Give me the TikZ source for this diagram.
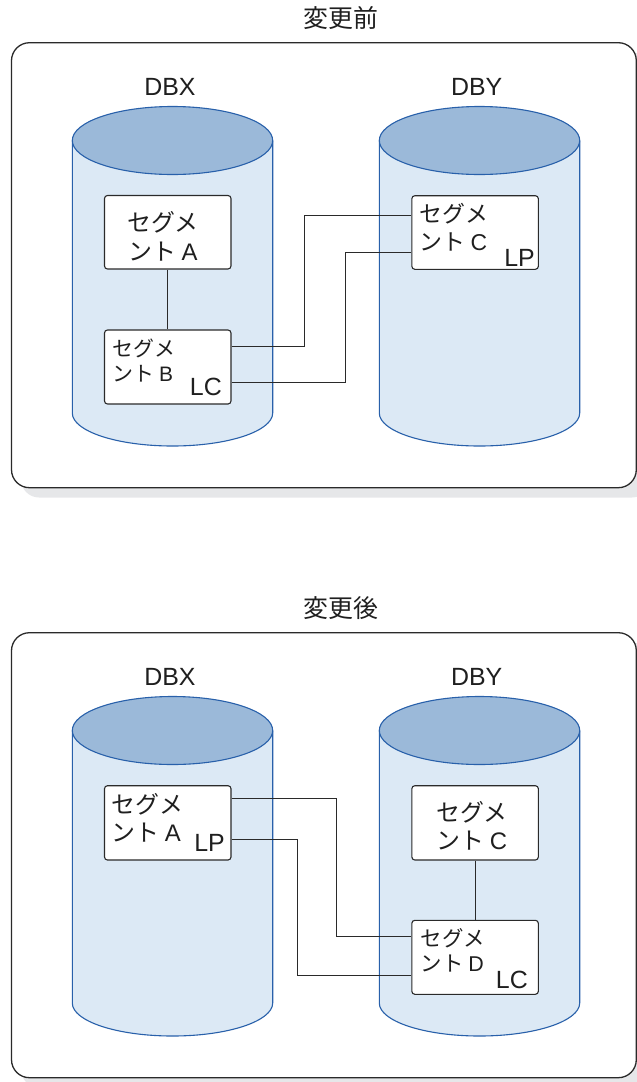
\documentclass[tikz,border=0pt]{standalone}
\usepackage{fontspec}
\setmainfont{Liberation Sans}
\newfontfamily\jp{Noto Sans CJK JP}
\newfontfamily\lat{Liberation Sans}
\definecolor{cylbody}{HTML}{DCE9F5}
\definecolor{cyltop}{HTML}{9BB9D9}
\definecolor{cylline}{HTML}{2860AA}
\definecolor{boxline}{HTML}{2A2A2A}
\definecolor{shadowc}{HTML}{E6E7E9}
\tikzset{
  panel/.style={draw=boxline, line width=1.3bp, fill=white, rounded corners=18bp},
  panelshadow/.style={fill=shadowc, rounded corners=18bp},
  segbox/.style={draw=boxline, line width=1.1bp, fill=white, rounded corners=3bp,
    inner sep=0pt, minimum width=126.5bp},
  conn/.style={draw=boxline, line width=1.1bp},
  jtext/.style={inner sep=0pt, text=black!88},
  tagtext/.style={inner sep=0pt, text=black!88, font=\fontsize{25}{25}\selectfont},
  dblabel/.style={inner sep=0pt, text=black!88, font=\fontsize{25}{25}\selectfont, anchor=base},
  title/.style={inner sep=0pt, text=black!88, font=\jp\fontsize{25}{25}\selectfont},
  cyl/.pic={
    \fill[cylbody] (-100.2,0) -- (-100.2,272.5)
      arc[start angle=180, end angle=360, x radius=100.2bp, y radius=33bp]
      -- (100.2,0) -- cycle;
    \draw[cylline, line width=1.1bp] (-100.2,0) -- (-100.2,272.5)
      arc[start angle=180, end angle=360, x radius=100.2bp, y radius=33bp]
      -- (100.2,0);
    \filldraw[fill=cyltop, draw=cylline, line width=1.1bp] (0,0)
      ellipse[x radius=100.2bp, y radius=34bp];
  }
}
\begin{document}
\begin{tikzpicture}[x=1bp, y=-1bp]
\useasboundingbox (0,0) rectangle (637,1082);

% ---------- top panel ----------
\node[title] (t1) at (341,18) {変更前};
\fill[panelshadow] (21,52.5) rectangle (650,497.5);
\draw[panel] (11.5,42.7) rectangle (636.3,487.7);
\node[dblabel] (dbx1) at (170,95) {DBX};
\node[dblabel] (dby1) at (476.7,95) {DBY};
\pic at (172.5,140.5) {cyl};
\pic at (479.5,140.5) {cyl};

\node[segbox, minimum height=73.5bp] (A1) at (167.75,232.25) {};
\node[segbox, minimum height=74bp] (B1) at (167.75,367) {};
\node[segbox, minimum height=73.6bp] (C1) at (475.1,232.5) {};

\node[jtext, font=\jp\fontsize{24}{29}\selectfont, align=center, anchor=north] (A1t) at (163,211) {セグメ\\ント {\lat A}};
\node[jtext, font=\jp\fontsize{21}{25}\selectfont, align=left, anchor=north west] (B1t) at (112.5,338.5) {セグメ\\ント {\lat B}};
\node[tagtext, anchor=base east] (B1tag) at (222,395) {LC};
\node[jtext, font=\jp\fontsize{23}{28}\selectfont, align=left, anchor=north west] (C1t) at (419.5,203.5) {セグメ\\ント {\lat C}};
\node[tagtext, anchor=base east] (C1tag) at (535,266) {LP};

\draw[conn] (A1.south) -- (B1.north);
\draw[conn] ([yshift=-16.7bp]B1.north east) -- ++(73,0) |- ([yshift=-20.3bp]C1.north west);
\draw[conn] ([yshift=-53bp]B1.north east) -- ++(114.3,0) |- ([yshift=-57bp]C1.north west);

% ---------- bottom panel ----------
\node[title] (t2) at (341,608) {変更後};
\fill[panelshadow] (21,642.5) rectangle (650,1087.5);
\draw[panel] (11.5,632.7) rectangle (636.3,1077.7);
\node[dblabel] (dbx2) at (170,685) {DBX};
\node[dblabel] (dby2) at (476.7,685) {DBY};
\pic at (172.5,730.5) {cyl};
\pic at (479.5,730.5) {cyl};

\node[segbox, minimum height=74.3bp] (A2) at (167.75,822.85) {};
\node[segbox, minimum height=74.3bp] (C2) at (475.1,822.85) {};
\node[segbox, minimum height=74bp] (D2) at (475.1,957.3) {};

\node[jtext, font=\jp\fontsize{24}{28}\selectfont, align=left, anchor=north west] (A2t) at (111.5,793.5) {セグメ\\ント {\lat A}};
\node[tagtext, anchor=base east] (A2tag) at (225,851) {LP};
\node[jtext, font=\jp\fontsize{24}{28}\selectfont, align=center, anchor=north] (C2t) at (472,801.5) {セグメ\\ント {\lat C}};
\node[jtext, font=\jp\fontsize{21.5}{25}\selectfont, align=left, anchor=north west] (D2t) at (420.5,928.5) {セグメ\\ント {\lat D}};
\node[tagtext, anchor=base east] (D2tag) at (528,988) {LC};

\draw[conn] (C2.south) -- (D2.north);
\draw[conn] ([yshift=-13.6bp]A2.north east) -- ++(104.7,0) |- ([yshift=-17bp]D2.north west);
\draw[conn] ([yshift=-54.3bp]A2.north east) -- ++(66,0) |- ([yshift=-55.7bp]D2.north west);
\end{tikzpicture}
\end{document}
